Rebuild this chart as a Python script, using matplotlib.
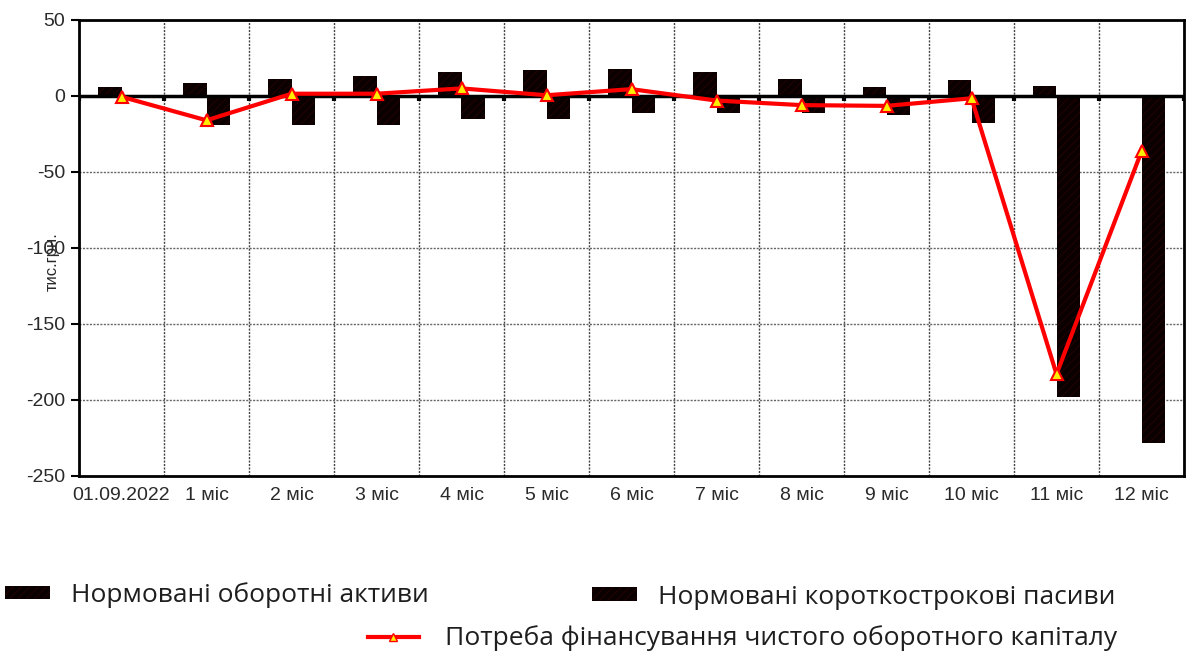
import numpy as np
import matplotlib
matplotlib.use('Agg')
import matplotlib.pyplot as plt
from matplotlib.patches import Patch
from matplotlib.lines import Line2D

# categories and series (тис. грн.)
periods = ['01.09.2022', '1 міс', '2 міс', '3 міс', '4 міс', '5 міс', '6 міс',
           '7 міс', '8 міс', '9 міс', '10 міс', '11 міс', '12 міс']
assets = [6, 8.5, 11, 13, 15.5, 17, 17.5, 15.5, 11, 6, 10.5, 6.5, 0]
liabilities = [0, -19, -19, -19, -15, -15, -11, -11, -11, -12.5, -17.5, -198, -228]
need = [-0.5, -16, 1.5, 1.5, 5, 0.5, 4.5, -3, -6, -6.5, -1.5, -183, -36.5]
yticks = [50, 0, -50, -100, -150, -200, -250]

plt.rcParams['font.family'] = ['Liberation Sans', 'DejaVu Sans']
plt.rcParams['hatch.linewidth'] = 0.5

fig = plt.figure(figsize=(11.87, 6.54), dpi=100)
ax = fig.add_axes([79 / 1187, 1 - 476 / 654, 1105 / 1187, 456 / 654])

x = np.arange(len(periods))
bw = 0.28
bar_face, bar_hatch = '#0a0000', '#2c0404'
ax.bar(x - bw / 2, assets, width=bw, color=bar_face, edgecolor=bar_hatch,
       linewidth=0, hatch='////', zorder=3)
ax.bar(x + bw / 2, liabilities, width=bw, color=bar_face, edgecolor=bar_hatch,
       linewidth=0, hatch='////', zorder=3)

# zero line with small category marks
ax.axhline(0, color='black', lw=2.5, zorder=4)
bounds = np.arange(-0.5, len(periods) + 0.5, 1.0)
ax.vlines(bounds, -3.5, 0, color='black', lw=3, zorder=4)

ax.plot(x, need, color='#ff0000', lw=3, marker='^', markersize=9,
        markerfacecolor='#ffee00', markeredgecolor='#ff0000', markeredgewidth=1.5,
        zorder=5)

ax.set_xlim(-0.5, len(periods) - 0.5)
ax.set_ylim(-250, 50)
ax.set_yticks(yticks)
ax.set_yticklabels([str(v) for v in yticks], fontsize=14, color='#2a2a2a')
ax.set_xticks(x)
ax.set_xticklabels(periods, fontsize=14, color='#2a2a2a')
ax.set_xticks(bounds, minor=True)
ax.tick_params(axis='x', which='both', length=0, pad=8)
ax.tick_params(axis='y', length=6, width=1.5, direction='out', pad=4)

ax.grid(True, axis='x', which='minor', color='#444444', lw=1, ls=(0, (1.5, 1)), zorder=1)
ax.grid(True, axis='y', which='major', color='#666666', lw=1, ls=(0, (1.5, 1)), zorder=1)
ax.set_axisbelow(True)
for s in ax.spines.values():
    s.set_linewidth(2)
    s.set_color('black')

fig.text(52 / 1187, 1 - 262 / 654, 'тис.грн.', rotation=90, fontsize=12,
         color='#2a2a2a', ha='center', va='center')

# legend entries laid out below the plot
leg_font = {'family': ['Open Sans', 'DejaVu Sans'], 'size': 19}
bar_h = Patch(facecolor=bar_face, edgecolor=bar_hatch, hatch='////', linewidth=0)
line_h = Line2D([], [], color='#ff0000', lw=3, marker='^', markersize=6,
                markerfacecolor='#ffee00', markeredgecolor='#ff0000')
entries = [
    (bar_h, 'Нормовані оборотні активи', 5, 595, 1.7, 0.8),
    (bar_h, 'Нормовані короткострокові пасиви', 592, 597, 1.7, 0.8),
    (line_h, 'Потреба фінансування чистого оборотного капіталу', 368, 638, 1.93, 1.0),
]
for h, lab, px, py, hl, pad in entries:
    lg = fig.legend([h], [lab], loc='center left',
                    bbox_to_anchor=(px / 1187, 1 - py / 654),
                    frameon=False, prop=leg_font, borderpad=0, borderaxespad=0,
                    handlelength=hl, handleheight=0.4, handletextpad=pad)
    for t in lg.get_texts():
        t.set_color('#1e1e1e')

fig.savefig('out.png', dpi=100)
